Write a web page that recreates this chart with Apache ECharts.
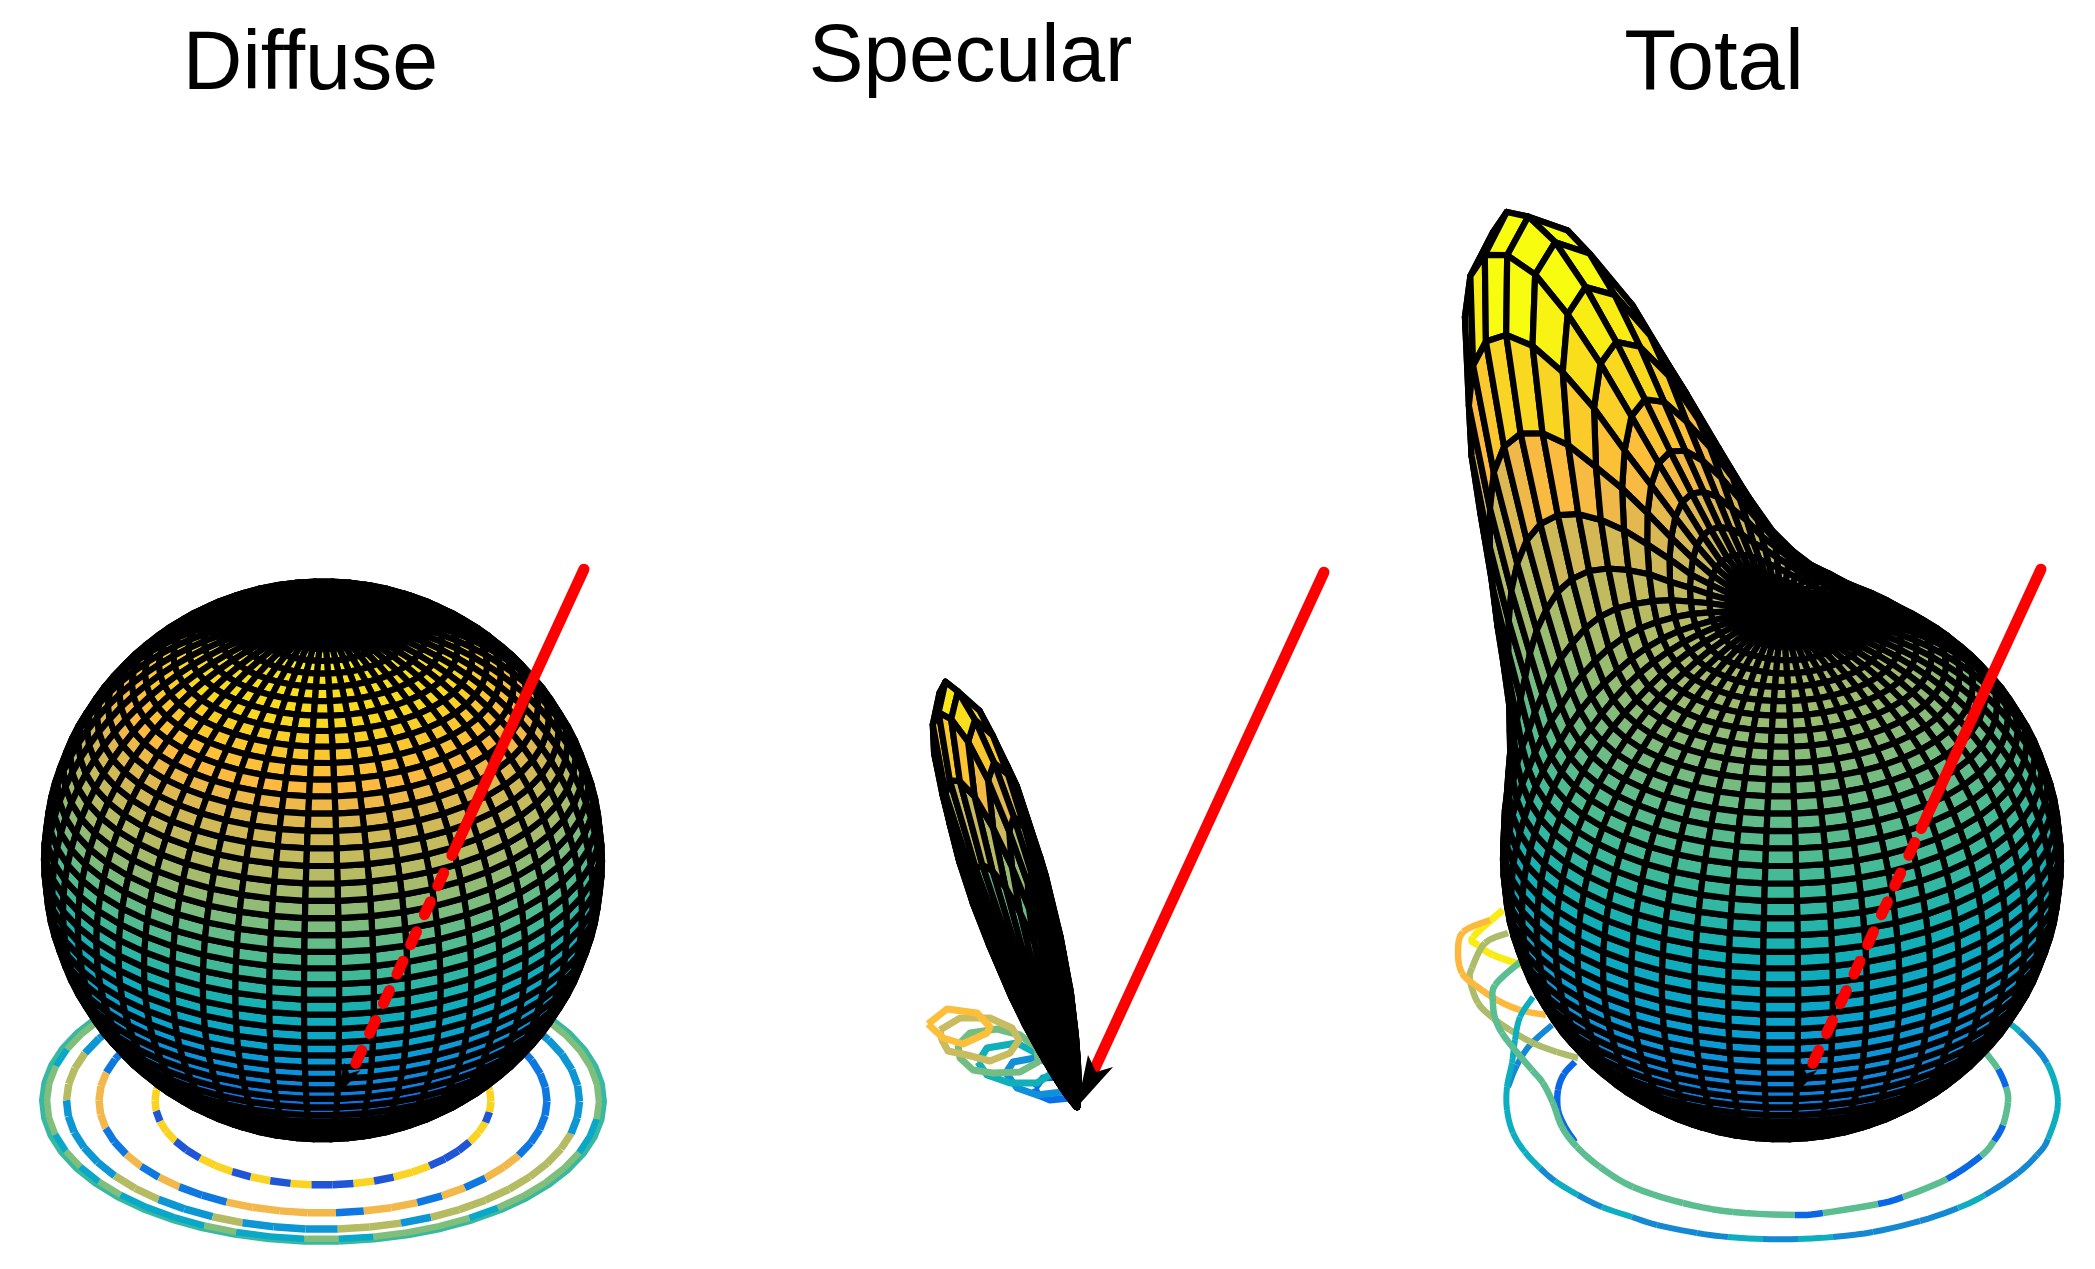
<!DOCTYPE html>
<html>
<head>
<meta charset="utf-8">
<style>html,body{margin:0;padding:0;background:#fff}#c{width:2095px;height:1269px}</style>
<script src="https://cdn.jsdelivr.net/npm/echarts@6/dist/echarts.min.js"></script>
</head>
<body>
<div id="c"></div>
<script>
// ---------- data (scene units: 558 = Lambert lobe length) ----------
const panelTitles = ['Diffuse', 'Specular', 'Total'];
const diffuseLength = 558;
const specularPeak = 458;
const totalPeak = 445;
const lightVector = [247, -219, 744];           // right, away from viewer, up
const mirrorVector = [-235, 219, 744];
const lobeAngleDeg = [0, 2, 4, 6, 8, 10, 12, 14, 16, 18, 20, 24, 30, 40, 180];
const lobeShape = [1, .97, .89, .77, .62, .48, .35, .25, .16, .1, .06, .018, .002, 0, 0];
const lobeShapeTotal = [1, .965, .875, .73, .57, .41, .29, .19, .115, .07, .04, .012, 0, 0, 0];
const colorStopZ = [0, .24, .273, .338, .40, .472, .537, .60, .659, .72, .80, .855, .896, .933, .97, 1];
const colorStopHex = ['#0a60ea', '#0f70e6', '#0f7ede', '#0c94da', '#09a5cc', '#12b0b6', '#3ab99c', '#5dbc8b',
  '#8bbc78', '#b4bc66', '#dab854', '#feba3e', '#fac82e', '#f9d920', '#f9e21a', '#f8fc0e'];

// floor rings of the Diffuse panel: one letter per 7.2 degree segment, starting 119 degrees left of front
const diffuseRingRadius = [168, 224, 256.5, 276];
const diffuseRingWidth = [7.5, 7.5, 7.5, 6.5];
const diffuseRingCodes = [
  'YYYYYBYYBBYYBYBYBBYBYYBBBYYBY',
  'BBOOOOBBOBOBBOOOOBOOBOBOOBBBBBBBB',
  'BLLLBBBBBLLBBLBBBLLBLLLLLLLBBBBBB',
  'GCGGGGCGCGCCCGCCGCGGGCGGGGCCGGGGG'
];
const diffuseRingColorA = ['#f9d423', '#f2b84b', '#b5bb63', '#7fbf7b'];
const diffuseRingColorB = ['#1f55d6', '#0f78e0', '#0c96d4', '#0aa8c8'];
const diffuseRingLetterA = ['Y', 'O', 'L', 'G'];
const diffuseBaseRing = { radius: 280, width: 8, color: '#38b8a0' };

// specular floor loops: [right, up] from the panel origin
const loopBlue = [[-42,19],[-34,29],[-17,30],[-7,9],[-27,7],[-39,12],[-42,19]];
const loopSky = [[-71,34],[-64,45],[-42,49],[-30,45],[-10,24],[-15,15],[-40,12],[-60,19],[-71,34]];
const loopTeal = [[-99,45],[-90,59],[-60,64],[-34,50],[-20,37],[-40,24],[-67,24],[-90,32],[-99,45]];
const loopGreen = [[-119,62],[-107,74],[-80,78],[-57,72],[-40,59],[-39,45],[-57,35],[-84,34],[-104,37],[-117,49],[-119,62]];
const loopOlive = [[-137,77],[-117,89],[-87,89],[-65,79],[-58,67],[-67,54],[-87,46],[-110,52],[-129,56],[-135,67],[-137,77]];
const loopOrange = [[-149,83],[-130,98],[-100,94],[-87,80],[-90,74],[-114,63],[-134,69],[-149,83]];

// total floor curves: [right, up] from the panel origin
const totalYellow = [[-279,194],[-309,167],[-304,159],[-289,149],[-257,138]];
const totalOrange = [[-292,184],[-319,172],[-324,151],[-320,131],[-307,119],[-285,104],[-262,94],[-236,89]];
const totalOlive = [[-274,171],[-297,161],[-310,136],[-312,124],[-304,101],[-289,86],[-272,74],[-249,61],[-225,52],[-204,46]];
const totalInnerBack = [[-207,42],[-218,30],[-224,14],[-224,-6],[-217,-23],[-207,-38]];
const totalOuterBack = [[-230,79],[-252,59],[-265,39],[-274,17]];
const totalInnerPath = [[-262,142],[-287,119],[-289,101],[-287,86],[-280,71],[-267,54],[-250,34],[-239,21],[-229,1],[-220,-23],[-205,-43],[-182,-63],[-149,-83],[-99,-99],[-49,-108],[13,-111],[41,-109],[96,-100],[121,-93],[165,-75],[199,-52],[212,-37],[221,-21],[226,2],[224,17],[216,35],[204,51]];
const totalInnerCodes = 'GGGGGGGGGGGGGGGBGBGBGBGGBG';
const totalOuterPath = [[-249,107],[-262,87],[-267,64],[-270,41],[-275,17],[-275,-6],[-269,-29],[-257,-48],[-242,-64],[-227,-77],[-204,-91],[-180,-103],[-150,-113],[-125,-121],[-85,-129],[-54,-133],[-19,-135],[16,-135],[51,-133],[91,-128],[138,-117],[176,-104],[203,-91],[235,-70],[255,-51],[266,-35],[276,2],[265,41],[238,72],[225,82]];
const totalOuterCodes = 'TTTTTTTTSTSTSSSTSTSSSTSSSTTST';

const arrowDashCenters = [.088, .144, .2, .255, .31, .366, .42, .477];
const arrowHead = [[0,0],[11,52],[19,35],[36,40]];

// ---------- scene geometry ----------
const canvasH = 1269;
const viewElDeg = 30;
const thetaStepDeg = 1.8, phiStepDeg = 7.2, thetaCount = 50, phiCount = 50, phiStartDeg = 3.3;
const surfaceLineWidth = 6.2;
const panels = [
  { left: 0, width: 700, origin: [323, 1104] },
  { left: 700, width: 700, origin: [1077, 1107] },
  { left: 1400, width: 695, origin: [1782, 1104] }
];
const rad = Math.PI / 180;
const sinEl = Math.sin(viewElDeg * rad), cosEl = Math.cos(viewElDeg * rad);
const project = p => [p[0], p[1] * sinEl + p[2] * cosEl];
const towardViewer = p => -p[1] * cosEl + p[2] * sinEl;
const mirrorLen = Math.hypot(...mirrorVector);
const mirrorDir = mirrorVector.map(v => v / mirrorLen);

function lobe(angle, shape) {
  for (let i = 1; i < lobeAngleDeg.length; i++) {
    if (angle <= lobeAngleDeg[i]) {
      const u = (angle - lobeAngleDeg[i - 1]) / (lobeAngleDeg[i] - lobeAngleDeg[i - 1]);
      return shape[i - 1] + u * (shape[i] - shape[i - 1]);
    }
  }
  return 0;
}
function hexToRgb(h) { return [1, 3, 5].map(i => parseInt(h.substr(i, 2), 16)); }
function colorAt(t) {
  t = Math.max(0, Math.min(1, t));
  for (let i = 1; i < colorStopZ.length; i++) {
    if (t <= colorStopZ[i]) {
      const u = (t - colorStopZ[i - 1]) / (colorStopZ[i] - colorStopZ[i - 1]);
      const a = hexToRgb(colorStopHex[i - 1]), b = hexToRgb(colorStopHex[i]);
      return 'rgb(' + a.map((v, k) => Math.round(v + u * (b[k] - v))).join(',') + ')';
    }
  }
  return colorStopHex[colorStopHex.length - 1];
}
function surfacePoint(i, j, radiusOf, shape) {
  const th = i * thetaStepDeg * rad, ph = (phiStartDeg + j * phiStepDeg) * rad;
  const d = [Math.sin(th) * Math.sin(ph), -Math.sin(th) * Math.cos(ph), Math.cos(th)];
  const dot = d[0] * mirrorDir[0] + d[1] * mirrorDir[1] + d[2] * mirrorDir[2];
  const alpha = Math.acos(Math.max(-1, Math.min(1, dot))) / rad;
  const r = radiusOf(Math.cos(th), lobe(alpha, shape));
  return d.map(v => v * r);
}
function buildFacets(radiusOf, shape, zToColor, lift) {
  const list = [];
  for (let i = 0; i < thetaCount; i++) {
    for (let j = 0; j < phiCount; j++) {
      const q = [[i, j], [i, j + 1], [i + 1, j + 1], [i + 1, j]].map(a => surfacePoint(a[0], a[1], radiusOf, shape));
      const cz = q.reduce((s, p) => s + p[2], 0) / 4;
      const depth = q.reduce((s, p) => s + towardViewer(p), 0) / 4;
      list.push({ pts: q.map(p => { const s = project(p); return [s[0], s[1] + lift]; }), fill: colorAt(zToColor(cz)), depth });
    }
  }
  list.sort((a, b) => a.depth - b.depth);
  return list;
}
function surfaceSeries(idx, facets) {
  return {
    type: 'custom', coordinateSystem: 'cartesian2d', xAxisIndex: idx, yAxisIndex: idx,
    silent: true, animation: false, progressive: 0, clip: false,
    data: facets.map(f => f.pts[0]),
    renderItem: (params, api) => {
      const f = facets[params.dataIndex];
      return { type: 'polygon', shape: { points: f.pts.map(p => api.coord(p)) },
        style: { fill: f.fill, stroke: '#000', lineWidth: surfaceLineWidth, lineJoin: 'round' } };
    }
  };
}
function strokeSeries(idx, strokes) {
  return {
    type: 'custom', coordinateSystem: 'cartesian2d', xAxisIndex: idx, yAxisIndex: idx,
    silent: true, animation: false, progressive: 0, clip: false,
    data: strokes.map(s => s.pts[0]),
    renderItem: (params, api) => {
      const s = strokes[params.dataIndex];
      return { type: 'polyline', shape: { points: s.pts.map(p => api.coord(p)) },
        style: { fill: null, stroke: s.color, lineWidth: s.width, lineCap: s.cap || 'butt', lineJoin: 'round' } };
    }
  };
}
function polygonSeries(idx, polys) {
  return {
    type: 'custom', coordinateSystem: 'cartesian2d', xAxisIndex: idx, yAxisIndex: idx,
    silent: true, animation: false, progressive: 0, clip: false,
    data: polys.map(s => s.pts[0]),
    renderItem: (params, api) => {
      const s = polys[params.dataIndex];
      return { type: 'polygon', shape: { points: s.pts.map(p => api.coord(p)) }, style: { fill: s.color } };
    }
  };
}
// rounds a read polyline for drawing, keeping one colour code per read edge
function roundedEdges(path) {
  const edges = [];
  for (let i = 0; i < path.length - 1; i++) {
    const a = path[Math.max(0, i - 1)], b = path[i], c = path[i + 1], d = path[Math.min(path.length - 1, i + 2)];
    const pts = [];
    for (let s = 0; s <= 5; s++) {
      const t = s / 5, t2 = t * t, t3 = t2 * t;
      pts.push([0, 1].map(k => .5 * (2 * b[k] + (c[k] - a[k]) * t + (2 * a[k] - 5 * b[k] + 4 * c[k] - d[k]) * t2 + (3 * b[k] - a[k] - 3 * c[k] + d[k]) * t3)));
    }
    edges.push(pts);
  }
  return edges;
}
function pathStrokes(path, codes, palette, width) {
  const edges = roundedEdges(path);
  const out = [];
  edges.forEach((pts, i) => out.push({ pts, color: palette[codes[Math.min(i, codes.length - 1)]], width }));
  return out;
}
// floor rings, Diffuse
const ringHeight = 3.5;
function ringPoint(R, psi) {
  return project([R * Math.sin(psi * rad), -R * Math.cos(psi * rad), ringHeight]);
}
function diffuseRings() {
  const out = [];
  const base = [];
  for (let k = 0; k <= phiCount; k++) base.push(ringPoint(diffuseBaseRing.radius, phiStartDeg + k * phiStepDeg));
  out.push({ pts: base, color: diffuseBaseRing.color, width: diffuseBaseRing.width });
  for (let r = diffuseRingRadius.length - 1; r >= 0; r--) {
    const code = diffuseRingCodes[r];
    for (let k = -25; k < 25; k++) {
      const idx = Math.max(0, Math.min(code.length - 1, k + 17));
      const col = code[idx] === diffuseRingLetterA[r] ? diffuseRingColorA[r] : diffuseRingColorB[r];
      out.push({ pts: [ringPoint(diffuseRingRadius[r], phiStartDeg + k * phiStepDeg),
                       ringPoint(diffuseRingRadius[r], phiStartDeg + (k + 1) * phiStepDeg)],
                 color: col, width: diffuseRingWidth[r] });
    }
  }
  return out;
}
function arrowStrokes(base, from, dashes) {
  const sBase = project(base);
  const sTip = project([base[0] + lightVector[0], base[1] + lightVector[1], base[2] + lightVector[2]]);
  const at = t => [sBase[0] + t * (sTip[0] - sBase[0]), sBase[1] + t * (sTip[1] - sBase[1])];
  const out = [{ pts: [at(from), at(1)], color: '#ff0000', width: 11, cap: 'round' }];
  dashes.forEach(t => out.push({ pts: [at(t - .012), at(t + .012)], color: '#ff0000', width: 11, cap: 'round' }));
  return out;
}
function headPolygon(base, scale) {
  const s = project(base);
  return [{ pts: arrowHead.map(p => [s[0] + p[0] * scale, s[1] + p[1] * scale]), color: '#000' }];
}

// series
const diffuseFacets = buildFacets((c, f) => diffuseLength * c, lobeShape, z => z / diffuseLength, 2);
const specularFacets = buildFacets((c, f) => specularPeak * f, lobeShape, z => .2 + .8 * z / (specularPeak * .915), 0);
const totalFacets = buildFacets((c, f) => diffuseLength * c + totalPeak * f, lobeShapeTotal, z => .12 + .6 * z / diffuseLength, 2);

const specLoops = [
  { pts: loopBlue, color: '#0a70e8', width: 7 }, { pts: loopSky, color: '#1090d8', width: 7 },
  { pts: loopTeal, color: '#10b0b8', width: 7 }, { pts: loopGreen, color: '#74bd82', width: 7 },
  { pts: loopOlive, color: '#c9bb60', width: 7 }, { pts: loopOrange, color: '#fcbf3a', width: 7 }
];
const totalPalette = { G: '#5bbd90', B: '#0a68e6', T: '#0caebf', S: '#1488d2', Y: '#f8ec12', L: '#adbc6a', O: '#fdb93e' };
const totalCurves = [].concat(
  pathStrokes(totalOuterBack, 'S', totalPalette, 6),
  pathStrokes(totalInnerBack, 'B', totalPalette, 6.5),
  pathStrokes(totalYellow, 'Y', totalPalette, 7),
  pathStrokes(totalOlive, 'L', totalPalette, 6.5),
  pathStrokes(totalOrange, 'O', totalPalette, 6.5),
  pathStrokes(totalOuterPath, totalOuterCodes, totalPalette, 6),
  pathStrokes(totalInnerPath, totalInnerCodes, totalPalette, 6.5));

const series = [
  strokeSeries(0, diffuseRings()),
  surfaceSeries(0, diffuseFacets),
  polygonSeries(0, headPolygon([14, 0, 9], .65)),
  strokeSeries(0, arrowStrokes([14, 0, 0], .49, arrowDashCenters)),
  strokeSeries(1, specLoops),
  surfaceSeries(1, specularFacets),
  strokeSeries(1, arrowStrokes([0, 0, 0], .065, [])),
  polygonSeries(1, headPolygon([0, 0, 0], 1)),
  strokeSeries(2, totalCurves),
  surfaceSeries(2, totalFacets),
  polygonSeries(2, headPolygon([12, 0, 9], .65)),
  strokeSeries(2, arrowStrokes([12, 0, 0], .515, arrowDashCenters))
];

const grids = panels.map(p => ({ left: p.left, top: 0, width: p.width, height: canvasH, show: false }));
const xAxes = panels.map((p, i) => ({ type: 'value', gridIndex: i, show: false, min: p.left - p.origin[0], max: p.left + p.width - p.origin[0] }));
const yAxes = panels.map((p, i) => ({ type: 'value', gridIndex: i, show: false, min: p.origin[1] - canvasH, max: p.origin[1] }));
const titleCenters = [310.5, 970.5, 1714];
const titleTops = [25, 17, 23];
const titleSizes = [82.5, 82, 85];

const chart = echarts.init(document.getElementById('c'), null, { renderer: 'canvas', width: 2095, height: 1269 });
chart.setOption({
  backgroundColor: '#ffffff',
  animation: false,
  title: panelTitles.map((t, i) => ({
    text: t, left: titleCenters[i], top: titleTops[i], textAlign: 'center', padding: 0,
    textStyle: { fontFamily: 'Liberation Sans', fontSize: titleSizes[i], fontWeight: 'normal', color: '#000' }
  })),
  grid: grids, xAxis: xAxes, yAxis: yAxes, series
});
</script>
</body>
</html>
